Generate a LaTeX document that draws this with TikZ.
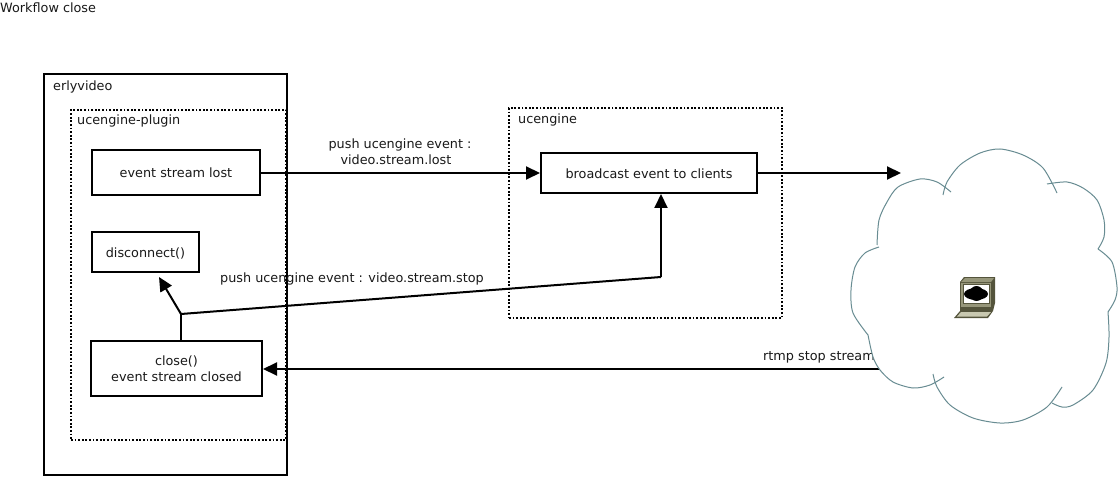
\documentclass[tikz,border=0pt]{standalone}
\usepackage{fontspec}
\setmainfont{DejaVu Sans}
\usetikzlibrary{arrows.meta}
\definecolor{cloudgrey}{RGB}{104,140,146}
\definecolor{casedark}{RGB}{84,84,60}
\definecolor{casemid}{RGB}{150,150,122}
\definecolor{caselight}{RGB}{200,200,176}
\tikzset{
    txt/.style={inner sep=0pt, align=center, text=black!90, font=\fontsize{12.8}{16}\selectfont},
    solidbox/.style={draw, line width=2pt, inner sep=0pt},
    dotbox/.style={draw, line width=1.8pt, dash pattern=on 1.8pt off 1.8pt, inner sep=0pt},
    wire/.style={line width=2pt},
    arrowed/.style={wire, -{Triangle[length=14pt,width=13pt]}},
    cloudline/.style={draw=cloudgrey, line width=1pt},
}
\begin{document}
\begin{tikzpicture}[x=1pt,y=-1pt]
        \useasboundingbox[fill=white] (0,0) rectangle (1118,478);
        \node[txt, anchor=west] (title) at (0,8) {Workflow close};
        %% erlyvideo
        \node[solidbox, minimum width=243pt, minimum height=401pt] (erlyvideo) at (165.5,274.5) {};
        \node[txt, anchor=west] (erlyvideolabel) at (53,87) {erlyvideo};
        %% plugin
        \node[dotbox, minimum width=215pt, minimum height=330pt] (plugin) at (178.5,275) {};
        \node[txt, anchor=west] (pluginlabel) at (77,121) {ucengine-plugin};
        \node[solidbox, minimum width=168pt, minimum height=45pt] (lost) at (176,172.5) {};
        \node[txt] (lostlabel) at (176,173) {event stream lost};
        \node[solidbox, minimum width=107pt, minimum height=40pt] (disconnect) at (145.5,252) {};
        \node[txt] (disconnectlabel) at (145.5,253) {disconnect()};
        \node[solidbox, minimum width=171pt, minimum height=55pt] (close) at (176.5,368.5) {};
        \node[txt] (closelabel) at (176.5,369) {close()\\event stream closed};
        %% ucengine
        \node[dotbox, minimum width=273pt, minimum height=210pt] (ucengine) at (645.5,213) {};
        \node[txt, anchor=west] (ucenginelabel) at (518,120) {ucengine};
        \node[solidbox, minimum width=216pt, minimum height=40pt] (broadcast) at (649,173) {};
        \node[txt] (broadcastlabel) at (649,174) {broadcast event to clients};
        %% Free ends
        \coordinate (split) at (181,314);
        \coordinate (bend) at (661,277);
        \coordinate (clients) at (901,173);
        \coordinate (rtmp) at (885,369);
        %% Connectors
        \draw[arrowed] (lost.east |- 0,173) -- (broadcast.west |- 0,173);
        \draw[arrowed] (broadcast.east |- 0,173) -- (clients);
        \draw[wire] (close.north -| split) -- (split);
        \draw[arrowed] (split) -- (159,277);
        \draw[wire] (split) -- (bend);
        \draw[arrowed] (bend) -- (broadcast.south -| bend);
        \draw[arrowed] (rtmp) -- (close.east |- rtmp);
        %% Labels
        \node[txt] (pushlost) at (400,152) {push ucengine event :\\video.stream.lost\hspace*{8pt}};
        \node[txt, anchor=west] (pushstop) at (220,279) {push ucengine event : video.stream.stop};
        \node[txt, anchor=west] (rtmplabel) at (763,357.5) {rtmp stop stream};
        %% Cloud
        \fill[white] (943,195) -- (947,182) -- (960,165) -- (980,153) -- (1000,149) -- (1023,155) -- (1043,168) -- (1050,183)
            -- (1067,182) -- (1083,188) -- (1097,200) -- (1104,220) -- (1104,237) -- (1098,249)
            -- (1112,262) -- (1117,287) -- (1115,300) -- (1108,312)
            -- (1109,337) -- (1106,363) -- (1093,390) -- (1073,405) -- (1062,407) -- (1052,403)
            -- (1047,407) -- (1023,420) -- (1000,423) -- (973,418) -- (950,405) -- (937,387)
            -- (930,385) -- (913,388) -- (893,382) -- (880,370) -- (873,357) -- (868,335)
            -- (853,313) -- (851,290) -- (855,267) -- (865,253) -- (878,246)
            -- (879,220) -- (887,202) -- (898,187) -- (920,179) -- (937,182) -- cycle;
        \draw[cloudline] plot[smooth] coordinates {(943,195) (947,182) (960,165) (980,153) (1000,149) (1023,155) (1043,168) (1057,193)};
        \draw[cloudline] plot[smooth] coordinates {(1047,184) (1067,182) (1083,188) (1097,200) (1104,220) (1104,237) (1098,249)};
        \draw[cloudline] plot[smooth] coordinates {(1098,249) (1112,262) (1117,287) (1115,300) (1108,312)};
        \draw[cloudline] plot[smooth] coordinates {(1108,312) (1109,337) (1106,363) (1093,390) (1073,405) (1062,407) (1052,403)};
        \draw[cloudline] plot[smooth] coordinates {(1062,387) (1047,407) (1023,420) (1000,423) (973,418) (950,405) (937,387) (933,374)};
        \draw[cloudline] plot[smooth] coordinates {(944,377) (930,385) (913,388) (893,382) (880,370) (873,357) (868,335)};
        \draw[cloudline] plot[smooth] coordinates {(868,335) (853,313) (851,290) (855,267) (865,253) (879,247)};
        \draw[cloudline] plot[smooth] coordinates {(877,245) (879,220) (887,202) (898,187) (920,179) (937,182) (951,192)};
        %% Computer
        \fill[casedark] (960,282) -- (964,277) -- (995,277) -- (995,303) -- (993,311) -- (988,318) -- (954,318) -- (960,311) -- cycle;
        \fill[casemid] (961,283) rectangle (991,307);
        \fill[casemid] (965,278) -- (994,278) -- (991,282) -- (961,282) -- cycle;
        \fill[white] (963,284) rectangle (989,303);
        \draw[casedark, line width=1pt] (963,284) rectangle (989,303);
        \fill[black] (976,294) ellipse (12pt and 6pt);
        \fill[black] (976.5,293.5) ellipse (7pt and 7.5pt);
        \fill[caselight] (961,312) -- (991,312) -- (987,316.5) -- (957,316.5) -- cycle;
\end{tikzpicture}
\end{document}
